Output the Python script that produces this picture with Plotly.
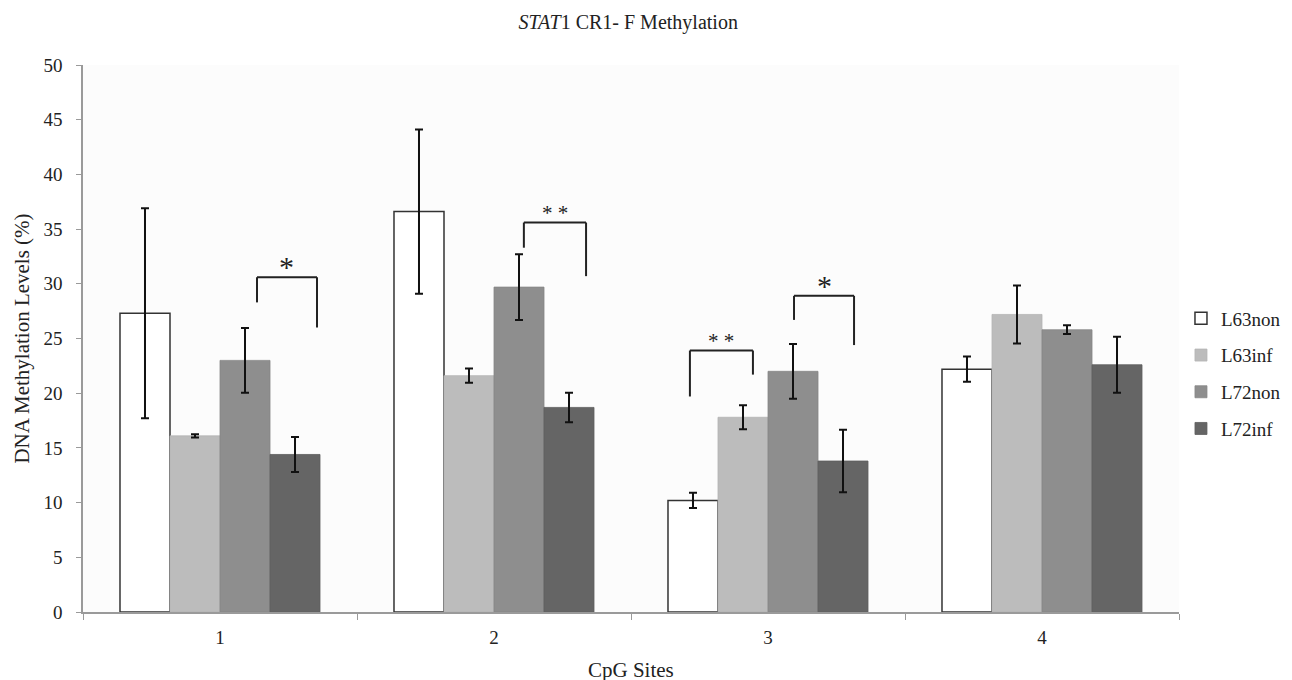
import plotly.graph_objects as go

categories = ["1", "2", "3", "4"]
series_names = ["L63non", "L63inf", "L72non", "L72inf"]
L63non = [27.3, 36.6, 10.2, 22.2]
L63inf = [16.1, 21.6, 17.8, 27.2]
L72non = [23.0, 29.7, 22.0, 25.8]
L72inf = [14.4, 18.7, 13.8, 22.6]
err_L63non = [9.6, 7.5, 0.7, 1.15]
err_L63inf = [0.15, 0.65, 1.1, 2.65]
err_L72non = [2.95, 3.0, 2.5, 0.4]
err_L72inf = [1.6, 1.35, 2.85, 2.55]

# significance brackets: (x_left, x_right, y_left_end, y_top, y_right_end, label)
brackets = [
    (0.135, 0.354, 28.3, 30.6, 26.0, "*"),
    (1.109, 1.336, 33.3, 35.6, 30.7, "* *"),
    (1.715, 1.945, 19.7, 23.9, 21.7, "* *"),
    (2.095, 2.314, 26.7, 28.9, 24.4, "*"),
]

values = [L63non, L63inf, L72non, L72inf]
errors = [err_L63non, err_L63inf, err_L72non, err_L72inf]
fills = ["#ffffff", "#bcbcbc", "#8e8e8e", "#656565"]
outlines = ["#333333", "#b4b4b4", "#868686", "#5e5e5e"]
outline_w = [1.5, 0.8, 0.8, 0.8]

FONT = "Liberation Serif"
TXT = "#222222"
fig = go.Figure()
for i, name in enumerate(series_names):
    fig.add_trace(go.Bar(
        x=categories, y=values[i], name=name,
        legendgroup=name,
        marker=dict(color=fills[i], line=dict(color=outlines[i], width=outline_w[i])),
        error_y=dict(type="data", array=errors[i], visible=True,
                     color="#111111", thickness=2, width=4),
    ))

for xl, xr, yl, yt, yr, lab in brackets:
    fig.add_shape(type="line", x0=xl, x1=xl, y0=yl, y1=yt, line=dict(color=TXT, width=2))
    fig.add_shape(type="line", x0=xl, x1=xr, y0=yt, y1=yt, line=dict(color=TXT, width=2))
    fig.add_shape(type="line", x0=xr, x1=xr, y0=yt, y1=yr, line=dict(color=TXT, width=2))
    big = lab == "*"
    fig.add_annotation(x=(xl + xr) / 2, y=yt, text=lab, showarrow=False,
                       yanchor="bottom", yshift=-8 if big else -4,
                       font=dict(family=FONT, size=30 if big else 21, color=TXT))

# x-axis title
fig.add_annotation(x=0.5, y=-0.106, xref="paper", yref="paper", text="CpG Sites",
                   showarrow=False, xanchor="center", yanchor="middle",
                   font=dict(family=FONT, size=21, color=TXT))

fig.update_layout(
    width=1292, height=680,
    margin=dict(l=75, r=121, t=57, b=76),
    paper_bgcolor="#ffffff", plot_bgcolor="#fcfcfc",
    barmode="group", bargap=0.27, bargroupgap=0,
    font=dict(family=FONT, color=TXT, size=19),
    title=dict(text="<i>STAT</i>1 CR1- F Methylation", x=0.48, xanchor="center",
               y=0.979, yanchor="middle", font=dict(family=FONT, size=20, color=TXT)),
    legend=dict(x=1.0018, xanchor="left", y=0.436, yanchor="middle",
                font=dict(family=FONT, size=19, color=TXT),
                traceorder="grouped", tracegroupgap=9, bgcolor="rgba(0,0,0,0)"),
    showlegend=True,
)
fig.update_xaxes(
    type="category", range=[-0.5, 3.5], tickson="boundaries",
    showline=True, linecolor="#9a9a9a", linewidth=1.5,
    ticks="outside", ticklen=6, tickcolor="#9a9a9a",
    showgrid=False, zeroline=False,
    tickfont=dict(family=FONT, size=19, color=TXT),
    ticklabelstandoff=7,
)
fig.update_yaxes(
    range=[0, 50], dtick=5, tick0=0,
    showline=True, linecolor="#9a9a9a", linewidth=1.5,
    ticks="outside", ticklen=5, tickcolor="#9a9a9a",
    showgrid=False, zeroline=False,
    tickfont=dict(family=FONT, size=19, color=TXT),
    ticklabelstandoff=10,
    title=dict(text="DNA Methylation Levels (%)", font=dict(family=FONT, size=21, color=TXT), standoff=8),
)
fig.write_html("out.html")
